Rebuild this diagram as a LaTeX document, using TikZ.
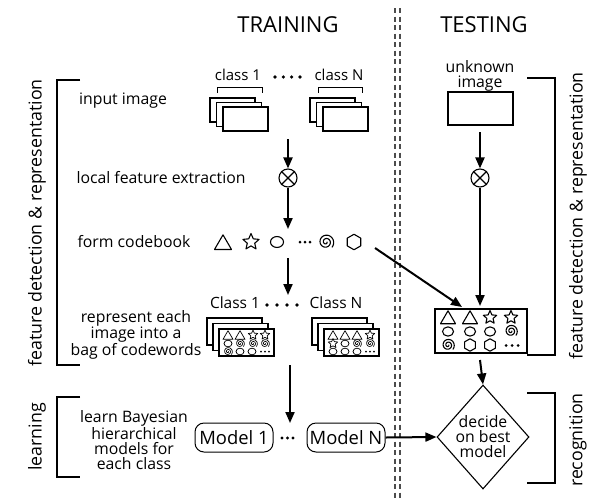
\documentclass[tikz,border=0pt]{standalone}
\usepackage{fontspec}
\setmainfont{Open Sans}
\usetikzlibrary{arrows.meta,shapes.geometric}
\tikzset{
  pics/tri/.style={code={\draw[line join=round] (-.5,.38)--(.5,.38)--(0,-.48)--cycle;}},
  pics/starsym/.style={code={\draw[line join=round] (-90:.5)--(-54:.23)--(-18:.5)--(18:.23)--(54:.5)--(90:.23)--(126:.5)--(162:.23)--(198:.5)--(234:.23)--cycle;}},
  pics/circsym/.style={code={\draw (0,0) ellipse [x radius=.5, y radius=.42];}},
  pics/hexsym/.style={code={\draw[line join=round] (-90:.5)--(-30:.5)--(30:.5)--(90:.5)--(150:.5)--(210:.5)--cycle;}},
  pics/spiral/.style={code={\draw[line cap=round] plot[domain=0:760, samples=90, smooth, variable=\t] ({(0.06+0.44*\t/760)*cos(\t)}, {(0.06+0.44*\t/760)*sin(\t)});}},
}
\begin{document}
\begin{tikzpicture}[x=1pt,y=-1pt,
  lbl/.style={font=\fontsize{15.8}{15}\selectfont, align=center, inner sep=0pt},
  cls/.style={font=\fontsize{15}{15}\selectfont, inner sep=0pt},
  head/.style={font=\fontsize{22}{24}\selectfont, inner sep=0pt},
  side/.style={font=\fontsize{17.8}{19}\selectfont, rotate=90, inner sep=0pt},
  mdl/.style={draw, line width=1pt, rounded corners=9pt, minimum width=78pt, minimum height=29pt, inner sep=0pt, font=\fontsize{18.4}{20}\selectfont},
  arr/.style={line width=2pt, -{Triangle[length=11pt,width=9pt]}},
  frame/.style={draw, line width=1.1pt, fill=white},
  brk/.style={line width=1.7pt},
  xcirc/.style={draw, circle, line width=1.1pt, minimum size=18pt, inner sep=0pt},
  dsh/.style={line width=1.2pt, dash pattern=on 5pt off 3.5pt, black!70},
  big/.style={line width=1.1pt},
  sml/.style={line width=.7pt},
]
\useasboundingbox (0,0) rectangle (601,501);

% headers
\node[head] (train) at (288,25) {TRAINING};
\node[head] (test) at (484,25) {TESTING};

% divider
\draw[dsh] (395,8) -- (395,500);
\draw[dsh] (400,8) -- (400,500);

% brackets
\draw[brk] (80,80) -- (57,80) -- (57,365) -- (80,365);
\draw[brk] (80,397) -- (57,397) -- (57,477) -- (80,477);
\draw[brk] (527,78) -- (555,78) -- (555,355) -- (527,355);
\draw[brk] (527,393) -- (555,393) -- (555,483) -- (527,483);
\node[side] (lfeat) at (37,223) {feature detection \& representation};
\node[side] (llearn) at (37,437) {learning};
\node[side] (rfeat) at (578,216) {feature detection \& representation};
\node[side] (rrec) at (578,440) {recognition};

% left labels
\node[lbl] (linput) at (123,101) {input image};
\node[lbl] (llocal) at (161,178) {local feature extraction};
\node[lbl] (lcode) at (134,242) {form codebook};
\node[lbl] (lrep) at (136,335) {represent each\\image into a\\bag of codewords};
\node[lbl] (llrn) at (134,440) {learn Bayesian\\hierarchical\\models for\\each class};

% class labels (input)
\node[cls] (c1) at (238,75) {class 1};
\node[cls] (cN) at (339,75) {class N};
\foreach \x in {275,283.3,291.6,300} \fill (\x,77) circle[radius=1.8pt];
\draw[line width=1pt] (217,93) -- (217,87.5) -- (262,87.5) -- (262,93);
\draw[line width=1pt] (318,93) -- (318,87.5) -- (362,87.5) -- (362,93);

% image stacks
\draw[frame] (210,98) rectangle (255,122);
\draw[frame] (216.5,102.5) rectangle (261.5,126.5);
\draw[frame] (223,107) rectangle (268,131);
\draw[frame] (310,98) rectangle (355,122);
\draw[frame] (316.5,102.5) rectangle (361.5,126.5);
\draw[frame] (323,107) rectangle (368,131);

% feature extraction circles
\node[xcirc] (cx1) at (288,178) {};
\draw[line width=1.1pt] (cx1.45) -- (cx1.225) (cx1.135) -- (cx1.315);
\coordinate (a1s) at (288,139);
\draw[arr] (a1s) -- (cx1.north);
\coordinate (a2e) at (288,229);
\draw[arr] (cx1.south) -- (a2e);

% codebook
\pic[scale=17, big] at (223,243) {tri};
\pic[scale=17, big] at (251,242) {starsym};
\pic[scale=13, big] at (277,242) {circsym};
\foreach \x in {300,305,310} \fill (\x,242) circle[radius=1.5pt];
\pic[scale=16, big] at (326,242) {spiral};
\pic[scale=15.5, big] at (354,242) {hexsym};

\coordinate (a3s) at (288,258);
\coordinate (a3e) at (288,295);
\draw[arr] (a3s) -- (a3e);

% class labels (bags)
\node[cls, font=\fontsize{15.5}{16}\selectfont] (C1) at (235,303) {Class 1};
\node[cls, font=\fontsize{15.5}{16}\selectfont] (CN) at (336,303) {Class N};
\foreach \x in {267,277,287,297} \fill (\x,305) circle[radius=1.8pt];

% bags
\draw[frame] (207,318) rectangle (262,345);
\draw[frame] (213,323.5) rectangle (268,350.5);
\draw[frame] (219,329) rectangle (274,356);
\pic[scale=10, sml] at (228,335.5) {tri};
\pic[scale=10, sml] at (240,335.5) {tri};
\pic[scale=10, sml] at (253,335) {starsym};
\pic[scale=10, sml] at (265,335) {starsym};
\pic[scale=8, sml] at (228,343.5) {circsym};
\pic[scale=9, sml] at (240,343.5) {spiral};
\pic[scale=9, sml] at (253,343.5) {spiral};
\pic[scale=9, sml] at (265,343.5) {spiral};
\pic[scale=9, sml] at (228,351.5) {spiral};
\pic[scale=8, sml] at (240,351.5) {circsym};
\pic[scale=8, sml] at (252,351.5) {circsym};
\foreach \x in {261,265,269} \fill (\x,351.5) circle[radius=1pt];

\draw[frame] (312,318) rectangle (367,345);
\draw[frame] (318,323.5) rectangle (373,350.5);
\draw[frame] (324,329) rectangle (379,356);
\pic[scale=10, sml] at (333,335.5) {tri};
\pic[scale=10, sml] at (345,335.5) {tri};
\pic[scale=10, sml] at (357,335.5) {tri};
\pic[scale=10, sml] at (370,335) {starsym};
\pic[scale=10, sml] at (333,343.5) {starsym};
\pic[scale=8, sml] at (345,343.5) {circsym};
\pic[scale=9, sml] at (357,343.5) {spiral};
\pic[scale=9, sml] at (370,343.5) {spiral};
\pic[scale=8, sml] at (333,351.5) {circsym};
\pic[scale=8, sml] at (345,351.5) {circsym};
\pic[scale=8, sml] at (357,351.5) {circsym};
\foreach \x in {366,370,374} \fill (\x,351.5) circle[radius=1pt];

\coordinate (a4s) at (290,365);
\coordinate (a4e) at (290,423);
\draw[arr] (a4s) -- (a4e);

% models
\node[mdl] (m1) at (234,437.5) {Model 1};
\node[mdl] (mN) at (346,437.5) {Model N};
\foreach \x in {282,287.5,293} \fill (\x,438) circle[radius=1.6pt];

% testing column
\node[lbl] (unk) at (480,76) {unknown\\image};
\node[draw, line width=1.1pt, minimum width=65pt, minimum height=33pt, inner sep=0pt] (timg) at (480.5,108.5) {};
\node[xcirc] (cx2) at (480,178) {};
\draw[line width=1.1pt] (cx2.45) -- (cx2.225) (cx2.135) -- (cx2.315);
\coordinate (b1s) at (480,132);
\draw[arr] (b1s) -- (cx2.north);

\node[draw, line width=1.1pt, minimum width=92pt, minimum height=44pt, inner sep=0pt] (tbox) at (481,331) {};
\coordinate (b2e) at (480,306);
\draw[arr] (cx2.south) -- (b2e);
\coordinate (cbend) at (375,248);
\coordinate (b3e) at (462,307);
\draw[arr] (cbend) -- (b3e);

\pic[scale=15, big] at (448,318) {tri};
\pic[scale=15, big] at (470,318) {tri};
\pic[scale=14, big] at (490,317.5) {starsym};
\pic[scale=14, big] at (511,317.5) {starsym};
\pic[scale=11, big] at (448,331.5) {circsym};
\pic[scale=11, big] at (470,331.5) {circsym};
\pic[scale=11, big] at (490,331.5) {circsym};
\pic[scale=13, big] at (511,331) {spiral};
\pic[scale=13, big] at (448,345) {spiral};
\pic[scale=12.5, big] at (470,345) {hexsym};
\pic[scale=12.5, big] at (490,345) {hexsym};
\foreach \x in {506,512,518} \fill (\x,345.5) circle[radius=1.5pt];

% decision
\node[draw, diamond, line width=1.1pt, minimum width=92pt, minimum height=104pt, inner sep=0pt] (dec) at (483,437) {};
\node[lbl] (dect) at (483,437) {decide\\on best\\model};
\coordinate (b4s) at (480,360);
\draw[arr] (b4s) -- (dec.north);
\draw[arr] (mN.east) -- (dec.west);
\end{tikzpicture}
\end{document}
